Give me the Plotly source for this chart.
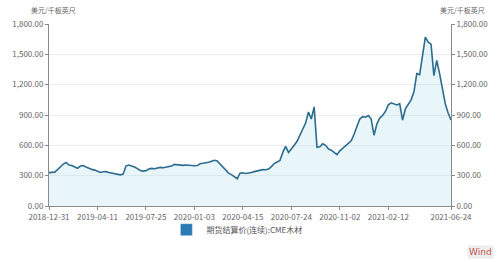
import plotly.graph_objects as go

# Trading-day index positions (sampled) and settlement prices (USD per 1000 board feet)
values = [
    330, 330, 335, 360, 385, 415, 430, 405, 400, 390,
    373, 395, 400, 385, 372, 362, 355, 340, 332, 338,
    340, 332, 325, 320, 318, 308, 315, 395, 405, 398,
    385, 370, 352, 345, 350, 365, 372, 368, 375, 382,
    378, 382, 390, 395, 412, 408, 404, 402, 406, 402,
    400, 398, 400, 418, 422, 425, 432, 442, 452, 445,
    415, 392, 355, 325, 310, 285, 270, 325, 328, 322,
    325, 332, 340, 348, 355, 360, 358, 365, 390, 420,
    435, 450, 530, 590, 530, 560, 600, 640, 700, 760,
    820, 930, 860, 980, 580, 585, 615, 600, 565, 552,
    530, 508, 545, 570, 592, 612, 645, 710, 795, 860,
    883, 878, 895, 860, 700, 810, 870, 895, 935, 1000,
    1020, 1008, 1000, 1012, 850, 960, 1000, 1050, 1130, 1310,
    1300, 1480, 1670, 1620, 1600, 1290, 1440, 1310, 1160, 1010,
    920, 850,
]
x_idx = list(range(len(values)))

tick_idx = [0, 17, 34, 51, 68, 85, 102, 119, 141]
tick_labels = ["2018-12-31", "2019-04-11", "2019-07-25", "2020-01-03", "2020-04-15",
               "2020-07-24", "2020-11-02", "2021-02-12", "2021-06-24"]
y_ticks = [0, 300, 600, 900, 1200, 1500, 1800]
series_name = "期货结算价(连续):CME木材"
unit = "美元/千板英尺"

line_color = "#2c6c8f"
font_family = "Noto Sans CJK SC, Noto Sans, sans-serif"

fig = go.Figure()
fig.add_trace(go.Scatter(
    x=x_idx, y=values, mode="lines",
    line=dict(color=line_color, width=1.6),
    fill="tozeroy", fillcolor="rgba(190,225,238,0.35)",
    showlegend=False, hoverinfo="skip",
))
fig.add_trace(go.Scatter(
    x=x_idx, y=values, mode="lines", yaxis="y2",
    line=dict(color="rgba(0,0,0,0)", width=0),
    showlegend=False, hoverinfo="skip",
))
fig.add_trace(go.Bar(
    x=[None], y=[None], name=series_name,
    marker=dict(color="#2b7bb5"), showlegend=True,
))

axis_common = dict(
    range=[0, 1800], tickvals=y_ticks, tickformat=",.2f",
    showline=True, linecolor="#8a8a8a", linewidth=1,
    ticks="outside", ticklen=3, tickcolor="#8a8a8a",
    tickfont=dict(size=8, color="#666666", family=font_family),
    zeroline=False,
)

fig.update_layout(
    width=500, height=262,
    margin=dict(l=40, r=37, t=24, b=56),
    paper_bgcolor="white", plot_bgcolor="white",
    font=dict(family=font_family),
    xaxis=dict(
        range=[0, 141], tickvals=tick_idx, ticktext=tick_labels,
        showline=True, linecolor="#8a8a8a", linewidth=1,
        ticks="outside", ticklen=3, tickcolor="#8a8a8a",
        tickfont=dict(size=8, color="#666666", family=font_family),
        showgrid=False, zeroline=False,
    ),
    yaxis=dict(showgrid=True, gridcolor="#ececec", gridwidth=1, **axis_common),
    yaxis2=dict(overlaying="y", side="right", showgrid=False, **axis_common),
    legend=dict(
        orientation="h", x=0.292, xanchor="left", y=-0.13, yanchor="middle",
        bgcolor="rgba(0,0,0,0)",
        font=dict(size=8, color="#555555", family=font_family),
        itemwidth=30,
    ),
    annotations=[
        dict(text=unit, xref="paper", yref="paper", x=-0.05, y=1.04,
             xanchor="left", yanchor="bottom", showarrow=False,
             font=dict(size=7, color="#666666", family=font_family)),
        dict(text=unit, xref="paper", yref="paper", x=1.09, y=1.04,
             xanchor="right", yanchor="bottom", showarrow=False,
             font=dict(size=7, color="#666666", family=font_family)),
        dict(text="Wind", xref="paper", yref="paper", x=1.106, y=-0.25,
             xanchor="right", yanchor="middle", showarrow=False,
             bgcolor="#eeeeee",
             font=dict(size=9, color="#c0504d", family="DejaVu Sans")),
    ],
    bargap=0,
)

fig.write_html("out.html")
